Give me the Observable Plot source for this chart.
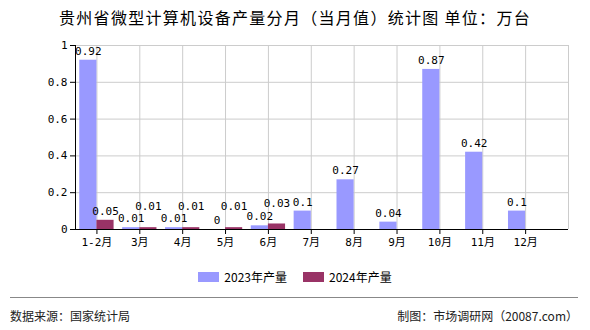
<!DOCTYPE html>
<html><head><meta charset="utf-8">
<script src="https://cdn.jsdelivr.net/npm/d3@7"></script>
<script src="https://cdn.jsdelivr.net/npm/@observablehq/plot@0.6"></script>
<style>
body{margin:0;width:590px;height:330px;position:relative;background:#fff;font-family:"Noto Sans CJK SC",sans-serif;overflow:hidden}
#title{position:absolute;top:6px;left:0;width:590px;text-align:center;font-size:16px;letter-spacing:1.3px;color:#000;line-height:22px}
#chart{position:absolute;top:36px;left:0}
#legend{position:absolute;top:268px;left:0;width:590px;display:flex;justify-content:center;gap:16px;font-size:12px;line-height:18px}
#legend span.item{display:flex;align-items:center}
#legend i{display:inline-block;width:21px;height:10px;margin-right:5px}
#line{position:absolute;top:297px;left:10px;width:568px;height:1px;background:#888}
#src{position:absolute;top:307px;left:10px;font-size:12px;color:#222}
#maker{position:absolute;top:307px;right:12px;font-size:12px;color:#222}
</style></head>
<body>
<div id="title">贵州省微型计算机设备产量分月（当月值）统计图 单位：万台</div>
<div id="chart"></div>
<div id="legend"></div>
<div id="line"></div>
<div id="src">数据来源：国家统计局</div>
<div id="maker">制图：市场调研网（20087.com）</div>
<script>
const months = ["1-2月","3月","4月","5月","6月","7月","8月","9月","10月","11月","12月"];
const values2023 = [0.92,0.01,0.01,0,0.02,0.1,0.27,0.04,0.87,0.42,0.1];
const values2024 = [0.05,0.01,0.01,0.01,0.03];
const yTicks = [0,0.2,0.4,0.6,0.8,1];
const seriesNames = ["2023年产量","2024年产量"];
const colors = ["#9999ff","#993366"];

const d2023 = values2023.map((v,i)=>({i,v}));
const d2024 = values2024.map((v,i)=>({i,v}));
const mono = "DejaVu Sans Mono, monospace";
const w = 0.4;
// a 2024 label is lifted above the 2023 label when both bars of a month are nearly equal
const crowded = d => Math.abs(d.v - (values2023[d.i] ?? 0)) < 0.06;
const lab2024Low = d2024.filter(d => !crowded(d));
const lab2024High = d2024.filter(d => crowded(d));

const chart = Plot.plot({
  width: 590, height: 220,
  marginLeft: 75, marginRight: 22, marginTop: 9, marginBottom: 27,
  style: {fontFamily: mono, fontSize: "11px", color: "#000", background: "transparent"},
  x: {type: "linear", domain: [-0.5, 11]},
  y: {domain: [0, 1]},
  marks: [
    Plot.gridY(yTicks, {stroke: "#cccccc", strokeOpacity: 1}),
    Plot.gridX(d3.range(0, 12), {stroke: "#cccccc", strokeOpacity: 1}),
    Plot.rectY(d2023, {x1: d=>d.i-w, x2: d=>d.i, y1: 0, y2: "v", fill: colors[0]}),
    Plot.rectY(d2024, {x1: d=>d.i, x2: d=>d.i+w, y1: 0, y2: "v", fill: colors[1]}),
    Plot.text(d2023, {x: d=>d.i-w/2, y: "v", text: d=>String(d.v), dy: -9, fontSize: 11, fontFamily: mono, fill: "#000"}),
    Plot.text(lab2024Low, {x: d=>d.i+w/2, y: "v", text: d=>String(d.v), dy: -9, fontSize: 11, fontFamily: mono, fill: "#000"}),
    Plot.text(lab2024High, {x: d=>d.i+w/2, y: "v", text: d=>String(d.v), dy: -21, fontSize: 11, fontFamily: mono, fill: "#000"}),
    Plot.axisY({ticks: yTicks, tickSize: 5, tickPadding: 3, tickFormat: d=>String(d), label: null, fontSize: 11}),
    Plot.axisX({ticks: d3.range(0, 11), tickSize: 5, tickPadding: 4, tickFormat: i=>months[i], label: null, fontSize: 11, fontFamily: "DejaVu Sans Mono, Noto Sans CJK SC"}),
    Plot.ruleY([0], {stroke: "#000"}),
    Plot.ruleX([-0.5], {stroke: "#000"})
  ]
});
document.getElementById("chart").appendChild(chart);

const lg = document.getElementById("legend");
seriesNames.forEach((n,k)=>{
  const s = document.createElement("span"); s.className = "item";
  const i = document.createElement("i"); i.style.background = colors[k];
  s.appendChild(i); s.appendChild(document.createTextNode(n)); lg.appendChild(s);
});
</script>
</body></html>
